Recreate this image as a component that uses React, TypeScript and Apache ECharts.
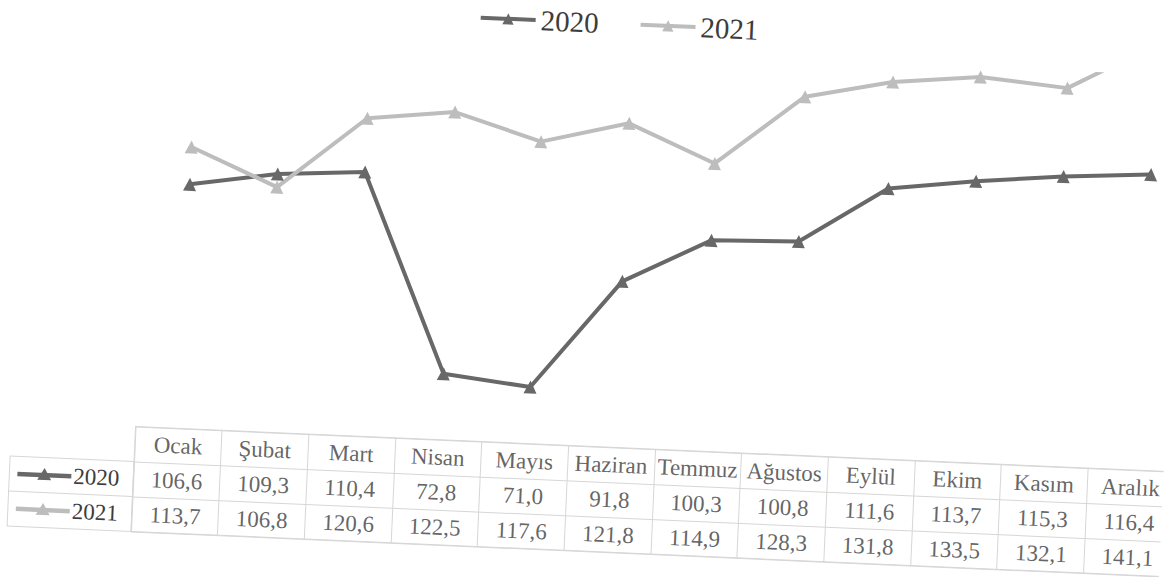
import React, { useEffect, useRef } from "react";
import * as echarts from "echarts";

const months = ["Ocak", "Şubat", "Mart", "Nisan", "Mayıs", "Haziran", "Temmuz", "Ağustos", "Eylül", "Ekim", "Kasım", "Aralık"];
const seriesNames = ["2020", "2021"];
const values2020 = [106.6, 109.3, 110.4, 72.8, 71.0, 91.8, 100.3, 100.8, 111.6, 113.7, 115.3, 116.4];
const values2021 = [113.7, 106.8, 120.6, 122.5, 117.6, 121.8, 114.9, 128.3, 131.8, 133.5, 132.1, 141.1];
const tableRows = ["header", "2020", "2021"];
const yMin = 65;
const yMax = 135;

const COLORS = ["#686868", "#bdbdbd"];
const FONT = "'Liberation Serif', 'Times New Roman', serif";
const TEXT = "#3c3c3c";
const BORDER = "#d6d6d6";
const GRID_LEFT = 142;
const GRID_W = 1047;
const TABLE_W = 1040;
const PLOT_TOP = 52;
const PLOT_H = 369;
const TABLE_TOP = 446;
const ROW_H = 35;

const fmt = (v: number) => v.toFixed(1).replace(".", ",");

export default function App() {
  const ref = useRef<HTMLDivElement>(null);
  useEffect(() => {
    if (!ref.current) return;
    const chart = echarts.init(ref.current, undefined, { renderer: "svg" });
    const allValues = [values2020, values2021];

    const tableData: any[] = [];
    months.forEach((m) => tableData.push([m, tableRows[0], m]));
    allValues.forEach((vals, s) =>
      vals.forEach((v, i) => tableData.push([months[i], tableRows[s + 1], fmt(v)]))
    );

    const legendGraphics: any[] = [
      {
        type: "rect",
        shape: { x: 18, y: TABLE_TOP + ROW_H, width: GRID_LEFT - 18, height: ROW_H * 2 },
        style: { fill: "none", stroke: BORDER, lineWidth: 1 },
        silent: true,
      },
      {
        type: "line",
        shape: { x1: 18, y1: TABLE_TOP + ROW_H * 2, x2: GRID_LEFT, y2: TABLE_TOP + ROW_H * 2 },
        style: { stroke: BORDER, lineWidth: 1 },
        silent: true,
      },
    ];
    seriesNames.forEach((name, s) => {
      const cy = TABLE_TOP + ROW_H * (s + 1) + ROW_H / 2;
      legendGraphics.push(
        {
          type: "line",
          shape: { x1: 26, y1: cy, x2: 80, y2: cy },
          style: { stroke: COLORS[s], lineWidth: 4.5 },
          silent: true,
        },
        {
          type: "polygon",
          shape: { points: [[53, cy - 7], [46, cy + 5], [60, cy + 5]] },
          style: { fill: COLORS[s] },
          silent: true,
        },
        {
          type: "text",
          x: 82,
          y: cy,
          style: {
            text: name,
            font: `23px ${FONT}`,
            fill: TEXT,
            verticalAlign: "middle",
            align: "left",
          },
          silent: true,
        }
      );
    });

    chart.setOption({
      animation: false,
      backgroundColor: "#ffffff",
      textStyle: { fontFamily: FONT },
      legend: {
        data: seriesNames,
        top: 3,
        left: 462,
        itemWidth: 55,
        itemHeight: 14,
        itemGap: 40,
        lineStyle: { width: 4 },
        textStyle: { fontFamily: FONT, fontSize: 29, color: TEXT },
      },
      grid: [
        { left: GRID_LEFT, width: GRID_W, top: PLOT_TOP, height: PLOT_H, outerBoundsMode: "none" },
        {
          left: GRID_LEFT,
          width: TABLE_W,
          top: TABLE_TOP,
          height: ROW_H * 3,
          show: true,
          borderColor: BORDER,
          borderWidth: 1,
          outerBoundsMode: "none",
        },
      ],
      xAxis: [
        {
          type: "category",
          data: months,
          gridIndex: 0,
          boundaryGap: true,
          show: false,
        },
        {
          type: "category",
          data: months,
          gridIndex: 1,
          boundaryGap: true,
          axisLine: { show: false },
          axisTick: { show: false },
          axisLabel: { show: false },
          splitLine: { show: true, lineStyle: { color: BORDER, width: 1 } },
        },
      ],
      yAxis: [
        { type: "value", min: yMin, max: yMax, gridIndex: 0, show: false },
        {
          type: "category",
          data: tableRows,
          inverse: true,
          gridIndex: 1,
          boundaryGap: true,
          axisLine: { show: false },
          axisTick: { show: false },
          axisLabel: { show: false },
          splitLine: { show: true, lineStyle: { color: BORDER, width: 1 } },
        },
      ],
      series: [
        ...seriesNames.map((name, s) => ({
          name,
          type: "line",
          xAxisIndex: 0,
          yAxisIndex: 0,
          data: allValues[s],
          symbol: "triangle",
          symbolSize: 13,
          clip: true,
          lineStyle: { color: COLORS[s], width: 4 },
          itemStyle: { color: COLORS[s] },
          silent: true,
        })),
        {
          name: "table",
          type: "scatter",
          xAxisIndex: 1,
          yAxisIndex: 1,
          data: tableData,
          symbolSize: 1,
          itemStyle: { color: "transparent" },
          silent: true,
          label: {
            show: true,
            position: "inside",
            formatter: (p: any) => p.data[2],
            fontFamily: FONT,
            fontSize: 23,
            color: TEXT,
          },
        },
      ],
      graphic: legendGraphics,
    });
    return () => chart.dispose();
  }, []);

  return (
    <div
      ref={ref}
      style={{
        position: "absolute",
        left: 0,
        top: 0,
        width: 1171,
        height: 577,
        transform: "rotate(2.5deg)",
        background: "#ffffff",
      }}
    />
  );
}
